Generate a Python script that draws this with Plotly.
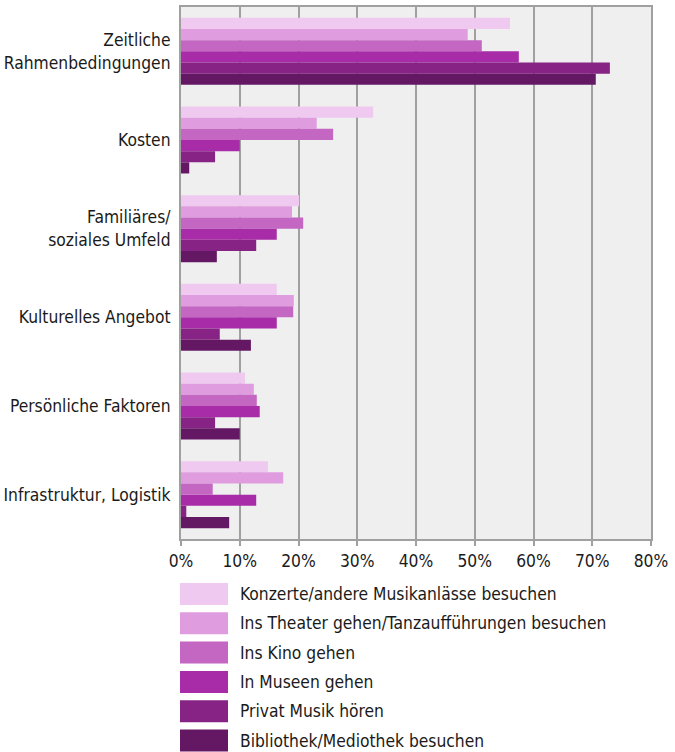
import plotly.graph_objects as go

categories = ["Zeitliche<br>Rahmenbedingungen", "Kosten", "Familiäres/<br>soziales Umfeld",
              "Kulturelles Angebot", "Persönliche Faktoren", "Infrastruktur, Logistik"]
series_names = ["Konzerte/andere Musikanlässe besuchen",
                "Ins Theater gehen/Tanzaufführungen besuchen",
                "Ins Kino gehen",
                "In Museen gehen",
                "Privat Musik hören",
                "Bibliothek/Mediothek besuchen"]
konzerte = [56.0, 32.7, 20.1, 16.3, 10.9, 14.8]
theater = [48.8, 23.1, 18.9, 19.2, 12.4, 17.4]
kino = [51.2, 25.9, 20.8, 19.1, 12.9, 5.4]
museen = [57.5, 10.0, 16.3, 16.3, 13.4, 12.8]
musik = [73.0, 5.8, 12.8, 6.6, 5.8, 0.9]
bibliothek = [70.6, 1.4, 6.1, 11.9, 10.0, 8.2]
series_values = [konzerte, theater, kino, museen, musik, bibliothek]
colors = ["#EFC9F0", "#DF9DDF", "#C367C3", "#A82BA8", "#862384", "#641864"]
x_ticks = [0, 10, 20, 30, 40, 50, 60, 70, 80]

FONT = "DejaVu Sans Condensed, Roboto, sans-serif"
FS = 17.3
W, H = 675, 752
ML, MR, MT, MB = 181, 24, 7, 213
PH = H - MT - MB

fig = go.Figure()
for name, vals, col in zip(series_names, series_values, colors):
    fig.add_trace(go.Bar(
        y=categories, x=vals, name=name, orientation="h",
        marker=dict(color=col, line=dict(width=0)),
        showlegend=False,
    ))

# custom legend with large swatches
def py(pix):
    return (H - MB - pix) / PH

def px(pix):
    return (pix - ML) / (W - ML - MR)

shapes = []
annotations = []
top0 = 583
step = 29.3
for i, (name, col) in enumerate(zip(series_names, colors)):
    y0 = top0 + i * step
    y1 = y0 + 22
    shapes.append(dict(type="rect", xref="paper", yref="paper",
                       x0=px(180), x1=px(228), y0=py(y1), y1=py(y0),
                       fillcolor=col, line=dict(width=0)))
    annotations.append(dict(xref="paper", yref="paper", x=px(238), y=py((y0 + y1) / 2),
                            text=name, showarrow=False, xanchor="left", yanchor="middle",
                            font=dict(family=FONT, size=FS, color="#1a1a1a")))

fig.update_layout(
    width=W, height=H,
    margin=dict(l=ML, r=MR, t=MT, b=MB, pad=0, autoexpand=False),
    barmode="group", bargap=0.245, bargroupgap=0,
    plot_bgcolor="#EFEFEF", paper_bgcolor="white",
    font=dict(family=FONT, size=FS, color="#1a1a1a"),
    shapes=shapes, annotations=annotations,
    xaxis=dict(range=[0, 80], tickvals=x_ticks, ticktext=[f"{v}%" for v in x_ticks],
               showgrid=True, gridcolor="#A0A0A0", gridwidth=2,
               showline=True, linecolor="#A0A0A0", linewidth=2, mirror=True,
               ticks="outside", ticklen=5, tickcolor="#A0A0A0", tickwidth=2,
               zeroline=False, fixedrange=True, automargin=False,
               tickfont=dict(family=FONT, size=FS, color="#1a1a1a")),
    yaxis=dict(autorange="reversed", showgrid=False,
               showline=True, linecolor="#A0A0A0", linewidth=2, mirror=True,
               ticks="", ticklabelstandoff=5, automargin=False, fixedrange=True,
               tickfont=dict(family=FONT, size=FS, color="#1a1a1a")),
    showlegend=False,
)

fig.write_html("out.html", config={"displayModeBar": False},
               post_script="document.body.style.margin='0';")
